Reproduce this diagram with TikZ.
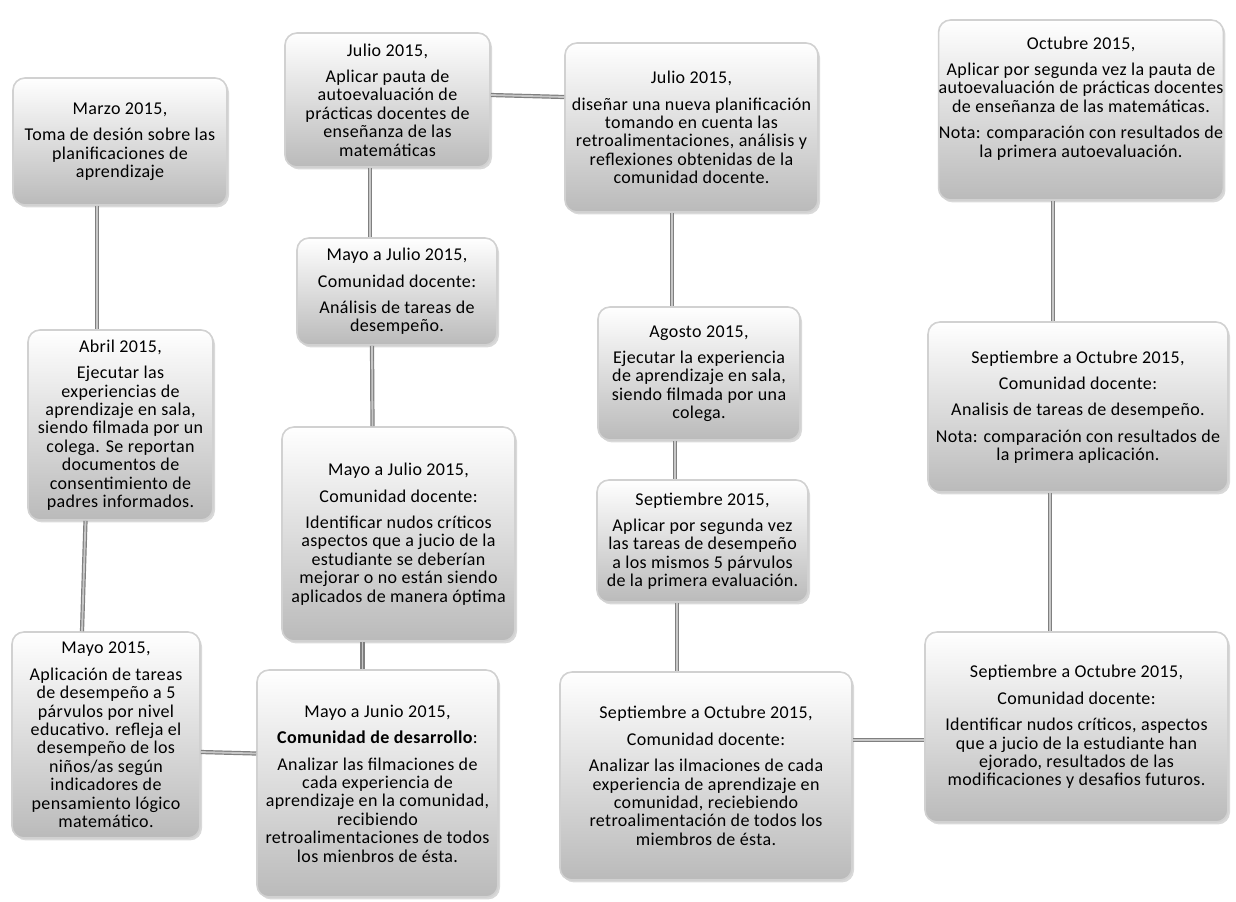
\documentclass[tikz,border=0pt]{standalone}
\usepackage{fontspec}
\setmainfont{Carlito}[LetterSpace=2]
\usepackage{tikz}
\usetikzlibrary{calc,shadows}

\begin{document}
\begin{tikzpicture}[
    x=0.5pt, y=-0.5pt,
    font=\fontsize{9}{9.2}\selectfont,
    card/.style 2 args={draw=black!18, line width=0.8pt, rounded corners=6pt,
      top color=white, bottom color=black!27, align=center, inner sep=0pt,
      drop shadow={opacity=0.3, shadow xshift=1pt, shadow yshift=-1.2pt},
      minimum width=#1*0.5pt, minimum height=#2*0.5pt},
    link/.style={draw=black!50, double=black!22, double distance=0.9pt, line width=0.6pt}
  ]
  \useasboundingbox (0,0) rectangle (1236,901);

  \node[card={214}{127}] (marzo) at (120,141.5)
    {Marzo 2015,\\[4pt] Toma de desión sobre las\\ planificaciones de\\ aprendizaje};
  \node[card={185}{190}] (abril) at (120.5,425)
    {Abril 2015,\\[4pt] Ejecutar las\\ experiencias de\\ aprendizaje en sala,\\ siendo filmada por un\\ colega. Se reportan\\ documentos de\\ consentimiento de\\ padres informados.};
  \node[card={188}{206}] (mayo) at (106,735)
    {Mayo 2015,\\[4pt] Aplicación de tareas\\ de desempeño a 5\\ párvulos por nivel\\ educativo. refleja el\\ desempeño de los\\ niños/as según\\ indicadores de\\ pensamiento lógico\\ matemático.};
  \node[card={241}{227}] (mayojunio) at (377.5,783.5)
    {Mayo a Junio 2015,\\[4pt] \textbf{Comunidad de desarrollo}:\\[4pt] Analizar las filmaciones de\\ cada experiencia de\\ aprendizaje en la comunidad,\\ recibiendo\\ retroalimentaciones de todos\\ los mienbros de ésta.};
  \node[card={233}{214}] (identif) at (398.5,534)
    {Mayo a Julio 2015,\\[4pt] Comunidad docente:\\[4pt] Identificar nudos críticos\\ aspectos que a jucio de la\\ estudiante se deberían\\ mejorar o no están siendo\\ aplicados de manera óptima};
  \node[card={200}{107}] (analisis) at (397,291.5)
    {Mayo a Julio 2015,\\[4pt] Comunidad docente:\\[4pt] Análisis de tareas de\\ desempeño.};
  \node[card={205}{134}] (pauta) at (387.5,100)
    {Julio 2015,\\[4pt] Aplicar pauta de\\ autoevaluación de\\ prácticas docentes de\\ enseñanza de las\\ matemáticas};
  \node[card={253}{169}] (disenar) at (691.5,127.5)
    {Julio 2015,\\[4pt] diseñar una nueva planificación\\ tomando en cuenta las\\ retroalimentaciones, análisis y\\ reflexiones obtenidas de la\\ comunidad docente.};
  \node[card={202}{133}] (agosto) at (699,373.5)
    {Agosto 2015,\\[4pt] Ejecutar la experiencia\\ de aprendizaje en sala,\\ siendo filmada por una\\ colega.};
  \node[card={211}{122}] (septiembre) at (702.5,541)
    {Septiembre 2015,\\[4pt] Aplicar por segunda vez\\ las tareas de desempeño\\ a los mismos 5 párvulos\\ de la primera evaluación.};
  \node[card={292}{208}] (analizar) at (706,776)
    {Septiembre a Octubre 2015,\\[4pt] Comunidad docente:\\[4pt] Analizar las ilmaciones de cada\\ experiencia de aprendizaje en\\ comunidad, reciebiendo\\ retroalimentación de todos los\\ miembros de ésta.};
  \node[card={303}{190}] (identoct) at (1076.5,727)
    {Septiembre a Octubre 2015,\\[4pt] Comunidad docente:\\[4pt] Identificar nudos críticos, aspectos\\ que a jucio de la estudiante han\\ ejorado, resultados de las\\ modificaciones y desafios futuros.};
  \node[card={300}{170}] (analisisoct) at (1078,407)
    {Septiembre a Octubre 2015,\\[4pt] Comunidad docente:\\[4pt] Analisis de tareas de desempeño.\\[4pt] Nota: comparación con resultados de\\ la primera aplicación.};
  \node[card={282}{180}] (octubre) at (1081,110)
    {Octubre 2015,\\[4pt] Aplicar por segunda vez la pauta de\\ autoevaluación de prácticas docentes\\ de enseñanza de las matemáticas.\\[4pt] Nota: comparación con resultados de\\ la primera autoevaluación.\\[4pt]};

  \draw[link] ($(marzo.south)+(-23,0)$) -- ($(abril.north)+(-23.5,0)$);
  \draw[link] ($(abril.south)+(-35,0)$) -- ($(mayo.north)+(-24,0)$);
  \draw[link] ($(mayo.east)+(0,17)$) -- ($(mayojunio.west)+(0,-30)$);
  \draw[link] ($(identif.south)+(-36,0)$) -- ($(mayojunio.north)+(-15,0)$);
  \draw[link] ($(identif.north)+(-26,0)$) -- ($(analisis.south)+(-25,0)$);
  \draw[link] ($(analisis.north)+(-27,0)$) -- ($(pauta.south)+(-17.5,0)$);
  \draw[link] ($(pauta.east)+(0,-5)$) -- ($(disenar.west)+(0,-30.5)$);
  \draw[link] ($(disenar.south)+(-19.5,0)$) -- ($(agosto.north)+(-27,0)$);
  \draw[link] ($(agosto.south)+(-24,0)$) -- ($(septiembre.north)+(-27.5,0)$);
  \draw[link] ($(septiembre.south)+(-25.5,0)$) -- ($(analizar.north)+(-29,0)$);
  \draw[link] ($(analizar.east)+(0,-36)$) -- ($(identoct.west)+(0,13)$);
  \draw[link] ($(identoct.north)+(-26.5,0)$) -- ($(analisisoct.south)+(-28,0)$);
  \draw[link] ($(analisisoct.north)+(-25,0)$) -- ($(octubre.south)+(-28,0)$);
\end{tikzpicture}
\end{document}
